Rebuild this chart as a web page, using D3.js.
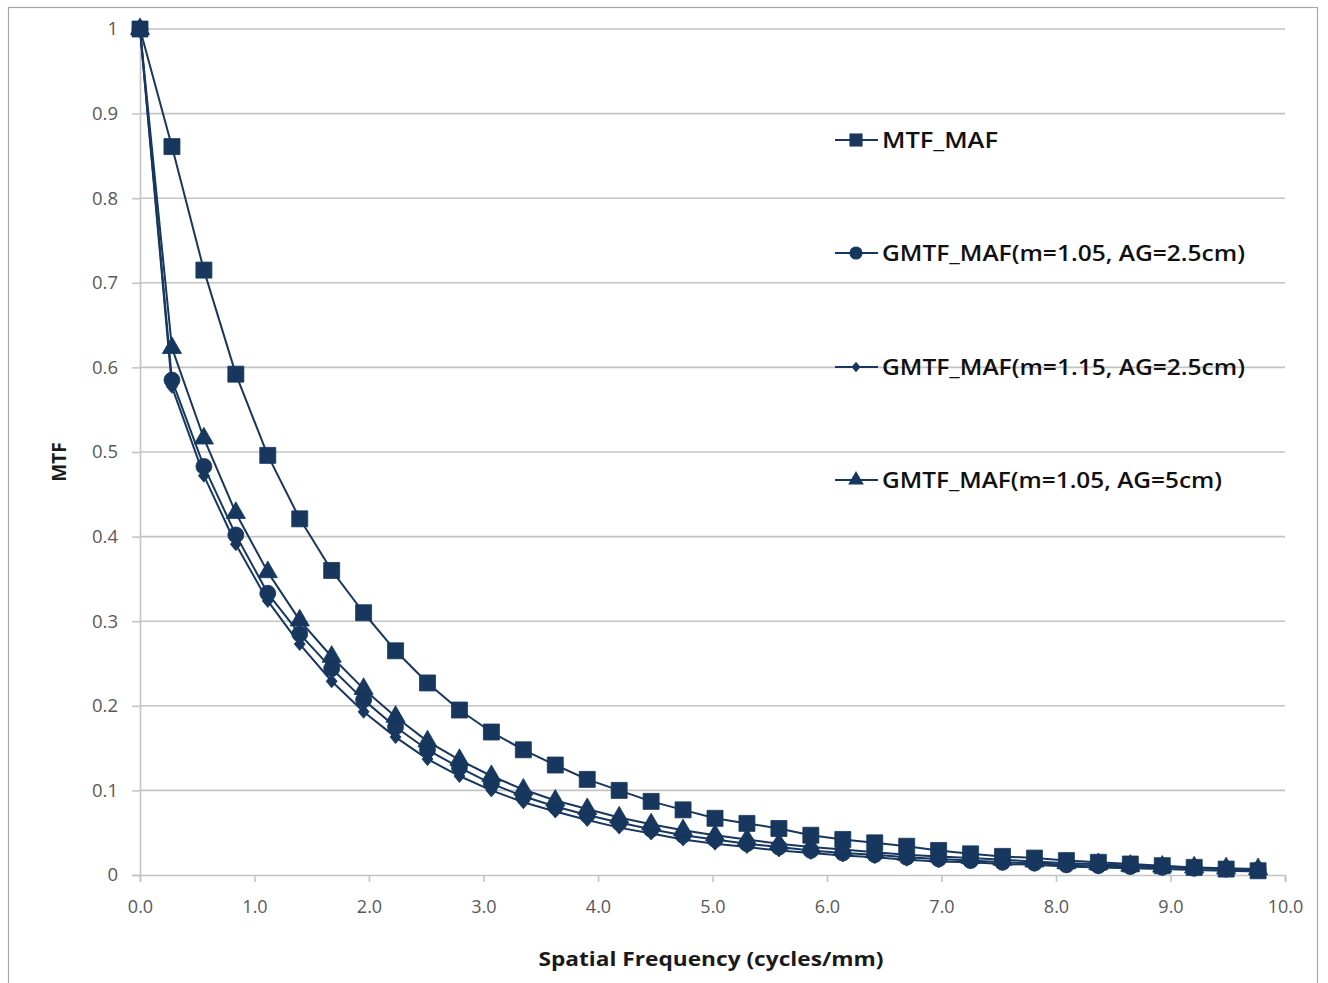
<!DOCTYPE html>
<html>
<head>
<meta charset="utf-8">
<script src="https://cdn.jsdelivr.net/npm/d3@7"></script>
<style>
  html, body { margin: 0; padding: 0; background: #ffffff; }
  svg { display: block; }
</style>
</head>
<body>
<svg id="chart" width="1328" height="983"></svg>
<script>
// Spatial frequency samples (cycles/mm)
const freq = [0, 0.279, 0.558, 0.837, 1.116, 1.395, 1.674, 1.953, 2.232, 2.511,
  2.790, 3.069, 3.348, 3.627, 3.906, 4.185, 4.464, 4.743, 5.022, 5.301,
  5.580, 5.859, 6.138, 6.417, 6.696, 6.975, 7.254, 7.533, 7.812, 8.091,
  8.370, 8.649, 8.928, 9.207, 9.486, 9.765];

// MTF of the moving-average filter
const mtfMaf = [1.000, 0.861, 0.715, 0.592, 0.496, 0.421, 0.360, 0.310, 0.265, 0.227,
  0.195, 0.169, 0.148, 0.130, 0.113, 0.100, 0.087, 0.077, 0.067, 0.061,
  0.055, 0.047, 0.042, 0.038, 0.034, 0.029, 0.025, 0.022, 0.020, 0.017,
  0.015, 0.013, 0.011, 0.009, 0.007, 0.005];

// Generalised MTF, m = 1.05, air gap 2.5 cm
const gmtfM105Ag25 = [1.000, 0.585, 0.483, 0.402, 0.333, 0.285, 0.244, 0.207, 0.175, 0.148,
  0.127, 0.108, 0.093, 0.081, 0.071, 0.062, 0.054, 0.047, 0.042, 0.037,
  0.033, 0.029, 0.026, 0.024, 0.021, 0.019, 0.017, 0.015, 0.014, 0.012,
  0.011, 0.010, 0.009, 0.008, 0.007, 0.006];

// Generalised MTF, m = 1.15, air gap 2.5 cm
const gmtfM115Ag25 = [1.000, 0.577, 0.472, 0.391, 0.324, 0.273, 0.229, 0.193, 0.163, 0.137,
  0.117, 0.100, 0.086, 0.075, 0.065, 0.056, 0.049, 0.042, 0.037, 0.033,
  0.029, 0.026, 0.023, 0.021, 0.018, 0.016, 0.015, 0.013, 0.012, 0.010,
  0.009, 0.008, 0.007, 0.006, 0.005, 0.004];

// Generalised MTF, m = 1.05, air gap 5 cm
const gmtfM105Ag5 = [1.000, 0.623, 0.516, 0.428, 0.358, 0.301, 0.258, 0.220, 0.187, 0.158,
  0.136, 0.117, 0.101, 0.088, 0.078, 0.068, 0.060, 0.053, 0.047, 0.042,
  0.037, 0.033, 0.030, 0.027, 0.024, 0.022, 0.020, 0.018, 0.016, 0.014,
  0.013, 0.011, 0.010, 0.009, 0.008, 0.007];

const seriesNames = ["MTF_MAF", "GMTF_MAF(m=1.05, AG=2.5cm)", "GMTF_MAF(m=1.15, AG=2.5cm)", "GMTF_MAF(m=1.05, AG=5cm)"];
const seriesValues = [mtfMaf, gmtfM105Ag25, gmtfM115Ag25, gmtfM105Ag5];
const seriesMarkers = ["square", "circle", "diamond", "triangle"];

const xTickValues = [0, 1, 2, 3, 4, 5, 6, 7, 8, 9, 10];
const yTickValues = [0, 0.1, 0.2, 0.3, 0.4, 0.5, 0.6, 0.7, 0.8, 0.9, 1];

const navy = "#17375e";
const labelFont = "'Open Sans', Lato, sans-serif";
const svg = d3.select("#chart");

// Outer chart frame
svg.append("rect")
  .attr("x", 8.5).attr("y", 7.5)
  .attr("width", 1309).attr("height", 990)
  .attr("fill", "#ffffff")
  .attr("stroke", "#a6a6a6").attr("stroke-width", 1.2);

const plot = { left: 140, right: 1285, top: 29, bottom: 875 };

const x = d3.scaleLinear().domain([0, 10]).range([plot.left, plot.right]);
const y = d3.scaleLinear().domain([0, 1]).range([plot.bottom, plot.top]);

// Horizontal gridlines
svg.append("g")
  .selectAll("line")
  .data(yTickValues.filter(v => v > 0))
  .join("line")
  .attr("x1", plot.left).attr("x2", plot.right)
  .attr("y1", d => y(d)).attr("y2", d => y(d))
  .attr("stroke", "#c4c4c4").attr("stroke-width", 1.6);

// Y axis
const yAxis = svg.append("g")
  .attr("transform", `translate(${plot.left},0)`)
  .call(d3.axisLeft(y).tickValues(yTickValues).tickSize(8).tickPadding(14)
    .tickFormat(d => d === 0 ? "0" : d === 1 ? "1" : d3.format(".1f")(d)));
yAxis.select(".domain").attr("stroke", "#c4c4c4").attr("stroke-width", 1.6);
yAxis.selectAll(".tick line").attr("stroke", "#c4c4c4").attr("stroke-width", 1.6);
yAxis.selectAll(".tick text")
  .attr("fill", "#595959")
  .style("font-family", labelFont)
  .style("font-size", "18.5px");

// X axis
const xAxis = svg.append("g")
  .attr("transform", `translate(0,${plot.bottom})`)
  .call(d3.axisBottom(x).tickValues(xTickValues).tickSize(7).tickPadding(18)
    .tickFormat(d3.format(".1f")));
xAxis.select(".domain").attr("stroke", "#c4c4c4").attr("stroke-width", 1.6);
xAxis.selectAll(".tick line").attr("stroke", "#c4c4c4").attr("stroke-width", 1.6);
xAxis.selectAll(".tick text")
  .attr("fill", "#595959")
  .style("font-family", labelFont)
  .style("font-size", "18px");

// Axis titles
svg.append("text")
  .attr("x", 711).attr("y", 966)
  .attr("text-anchor", "middle")
  .attr("fill", "#1a1a1a")
  .attr("textLength", 345)
  .attr("lengthAdjust", "spacingAndGlyphs")
  .style("font-family", labelFont)
  .style("font-weight", "700")
  .style("font-size", "20px")
  .text("Spatial Frequency (cycles/mm)");

svg.append("text")
  .attr("transform", "translate(66,462) rotate(-90)")
  .attr("text-anchor", "middle")
  .attr("fill", "#1a1a1a")
  .style("font-family", labelFont)
  .style("font-weight", "700")
  .style("font-size", "19px")
  .text("MTF");

// Marker shapes
function diamondPath(w, h) {
  return `M0,${-h / 2}L${w / 2},0L0,${h / 2}L${-w / 2},0Z`;
}
function markerPath(kind, scale) {
  if (kind === "diamond") return diamondPath(11 * scale, 13 * scale);
  const sizes = { square: 256, circle: 200, triangle: 160 };
  const types = { square: d3.symbolSquare, circle: d3.symbolCircle, triangle: d3.symbolTriangle };
  return d3.symbol().type(types[kind]).size(sizes[kind] * scale * scale)();
}

const line = d3.line().x(d => x(d[0])).y(d => y(d[1]));

// Series lines and markers
seriesValues.forEach((vals, i) => {
  const pts = freq.map((f, k) => [f, vals[k]]);
  const g = svg.append("g");
  g.append("path")
    .datum(pts)
    .attr("d", line)
    .attr("fill", "none")
    .attr("stroke", navy)
    .attr("stroke-width", 2)
    .attr("stroke-linejoin", "round");
  g.selectAll("path.marker")
    .data(pts)
    .join("path")
    .attr("class", "marker")
    .attr("transform", d => `translate(${x(d[0])},${y(d[1])})`)
    .attr("d", markerPath(seriesMarkers[i], 1))
    .attr("fill", navy)
    .attr("stroke", navy)
    .attr("stroke-width", 0.8);
});

// Legend
const legendY = [140, 253, 367, 480];
const legendWidths = [116, 363, 363, 340];
const legend = svg.append("g");
seriesNames.forEach((name, i) => {
  const gy = legendY[i];
  legend.append("line")
    .attr("x1", 835).attr("x2", 878)
    .attr("y1", gy).attr("y2", gy)
    .attr("stroke", navy).attr("stroke-width", 2);
  legend.append("path")
    .attr("transform", `translate(856,${gy})`)
    .attr("d", markerPath(seriesMarkers[i], 0.82))
    .attr("fill", navy);
  legend.append("text")
    .attr("x", 882).attr("y", gy + 8)
    .attr("fill", "#111111")
    .attr("textLength", legendWidths[i])
    .attr("lengthAdjust", "spacingAndGlyphs")
    .style("font-family", labelFont)
    .style("font-weight", "600")
    .style("font-size", "22px")
    .text(name);
});
</script>
</body>
</html>
